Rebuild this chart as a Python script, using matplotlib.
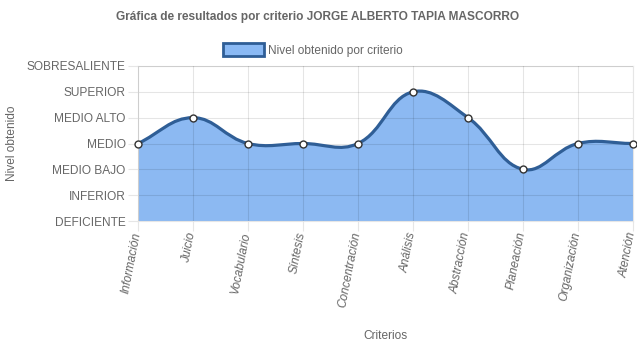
import numpy as np
import matplotlib
matplotlib.use("Agg")
import matplotlib.pyplot as plt
from matplotlib.path import Path
from matplotlib.patches import PathPatch, Patch
from matplotlib.transforms import ScaledTranslation

plt.rcParams['font.family'] = ['Liberation Sans', 'DejaVu Sans']

criterios = ["Información", "Juicio", "Vocabulario", "Síntesis", "Concentración",
             "Análisis", "Abstracción", "Planeación", "Organización", "Atención"]
niveles = ["DEFICIENTE", "INFERIOR", "MEDIO BAJO", "MEDIO", "MEDIO ALTO",
           "SUPERIOR", "SOBRESALIENTE"]
valores = [3, 4, 3, 3, 3, 5, 4, 2, 3, 3]

grey = "#666666"
grid_c = "#e6e6e6"
line_c = "#2f5e96"
fill_c = (0.36, 0.61, 0.93, 0.7)

# pixel scale of one category / one level, used for the chart.js style bezier
sx, sy = 55.0, 25.8
tension = 0.4


def bezier_path(xs, ys, close_to=None):
    px = np.array(xs, float) * sx
    py = np.array(ys, float) * sy
    n = len(px)
    cp_prev, cp_next = [], []
    for i in range(n):
        p0 = (px[max(i - 1, 0)], py[max(i - 1, 0)])
        p2 = (px[min(i + 1, n - 1)], py[min(i + 1, n - 1)])
        d01 = np.hypot(px[i] - p0[0], py[i] - p0[1])
        d12 = np.hypot(p2[0] - px[i], p2[1] - py[i])
        tot = d01 + d12
        s01 = d01 / tot if tot else 0
        s12 = d12 / tot if tot else 0
        fa, fb = tension * s01, tension * s12
        cp_prev.append((px[i] - fa * (p2[0] - p0[0]), py[i] - fa * (p2[1] - p0[1])))
        cp_next.append((px[i] + fb * (p2[0] - p0[0]), py[i] + fb * (p2[1] - p0[1])))
    verts = [(px[0], py[0])]
    codes = [Path.MOVETO]
    for i in range(1, n):
        verts += [cp_next[i - 1], cp_prev[i], (px[i], py[i])]
        codes += [Path.CURVE4] * 3
    verts = [(x / sx, min(max(y / sy, 0), 6)) for x, y in verts]
    if close_to is not None:
        verts += [(xs[-1], close_to), (xs[0], close_to), verts[0]]
        codes += [Path.LINETO, Path.LINETO, Path.CLOSEPOLY]
    return Path(verts, codes)


x = np.arange(len(criterios))

fig = plt.figure(figsize=(6.37, 3.48), dpi=100)
ax = fig.add_axes([138 / 637, 1 - 221 / 348, 495 / 637, 155 / 348])

ax.add_patch(PathPatch(bezier_path(x, valores, close_to=0), facecolor=fill_c,
                       edgecolor="none", zorder=2))
ax.add_patch(PathPatch(bezier_path(x, valores), facecolor="none",
                       edgecolor=line_c, lw=2.3, zorder=3))
ax.plot(x, valores, "o", ms=5, mfc="white", mec="#333333", mew=1, zorder=4,
        clip_on=False)

ax.set_xlim(0, len(criterios) - 1)
ax.set_ylim(0, 6)
ax.set_xticks(x)
ax.set_xticklabels([])
# category labels drawn by hand so their place can be tuned
lab_tr = ax.get_xaxis_transform() + ScaledTranslation(-1 / 100, -11 / 100,
                                                      fig.dpi_scale_trans)
for xi, name in zip(x, criterios):
    ax.text(xi, 0, name, transform=lab_tr, rotation=79, ha="right",
            va="center", rotation_mode="anchor", color=grey, fontsize=8.6,
            fontstyle="italic", clip_on=False)
ax.set_yticks(range(len(niveles)))
ax.set_yticklabels(niveles, color=grey, fontsize=8.6)
ax.tick_params(axis="both", length=7, width=0.8, color=grid_c, pad=2)
# grid between fill and line so it shows through the area like the original
ax.grid(True, color="black", alpha=0.1, lw=0.8)
ax.set_axisbelow(False)
for s in ax.spines.values():
    s.set_color(grid_c)
    s.set_linewidth(0.8)

ax.set_ylabel("Nivel obtenido", color=grey, fontsize=8.6)
ax.yaxis.set_label_coords(-0.242, 0.5)
fig.text(385 / 637, 1 - 336 / 348, "Criterios", color=grey, fontsize=8.6,
         ha="center", va="center")

fig.text(318 / 637, 1 - 17 / 348,
         "Gráfica de resultados por criterio JORGE ALBERTO TAPIA MASCORRO",
         color=grey, fontsize=8.6, fontweight="bold", ha="center", va="center")

handle = Patch(facecolor="#8ab9f4", edgecolor="#2f5e96", lw=2)
fig.legend([handle], ["Nivel obtenido por criterio"], loc="center",
           bbox_to_anchor=(313 / 637, 1 - 50 / 348), frameon=False,
           fontsize=8.6, labelcolor=grey, handlelength=3.4, handleheight=1.3,
           handletextpad=0.4)

fig.savefig("out.png", dpi=100)
plt.close(fig)
